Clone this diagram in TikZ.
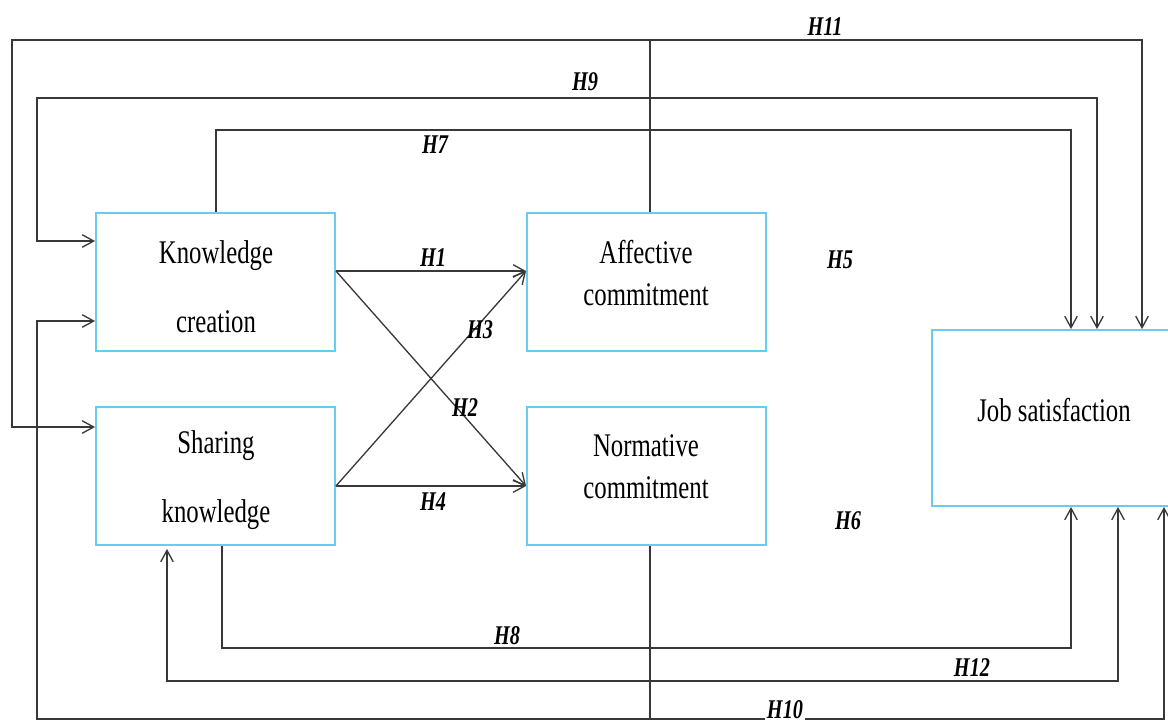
\documentclass[tikz,border=0pt]{standalone}
\usepackage{fontspec}
\setmainfont{Liberation Serif}
\newfontfamily\boxfont[FakeStretch=0.75]{Liberation Serif}
\usetikzlibrary{calc,positioning,arrows.meta}
\definecolor{boxblue}{HTML}{66CCF0}
\tikzset{
  tip/.tip={Straight Barb[length=2.3mm,width=2.5mm]},
  plain/.style={line width=0.75pt, draw=black!78},
  line/.style={plain, -tip},
  both/.style={plain, tip-tip},
  box/.style={draw=boxblue, line width=1.1pt, minimum width=4.78cm, minimum height=2.76cm, inner sep=0pt},
  bigbox/.style={box, minimum width=4.8cm, minimum height=3.52cm},
  boxtext/.style={align=center, inner sep=0pt, font=\boxfont\fontsize{18.8}{24}\selectfont},
  hyp/.style={inner sep=1pt, font=\boxfont\fontsize{15.4}{18}\selectfont\bfseries\itshape}
}
\begin{document}
\begin{tikzpicture}[x=0.02cm, y=-0.02cm]
  \useasboundingbox (0,0) rectangle (1168,724);
  % boxes
  \node[box] (KC) at (215.5,282) {};
  \node[box] (SK) at (215.5,476) {};
  \node[box] (AC) at (646.5,282) {};
  \node[box] (NC) at (646.5,476) {};
  \node[bigbox] (JS) at (1052,418) {};
  \node[boxtext] (KCt) at (216,287) {Knowledge\\[0.54cm]creation};
  \node[boxtext] (SKt) at (216,480) {Sharing\\[0.54cm]knowledge};
  \node[boxtext] (ACt) at (646,273) {Affective\\commitment};
  \node[boxtext] (NCt) at (646,467) {Normative\\commitment};
  \node[boxtext] (JSt) at (1054,410) {Job satisfaction};
  % crossing paths
  \draw[line] (KC.east |- 0,271) -- (AC.west |- 0,271);
  \draw[line] (KC.east |- 0,271) -- (NC.west |- 0,486);
  \draw[line] (SK.east |- 0,486) -- (AC.west |- 0,271);
  \draw[line] (SK.east |- 0,486) -- (NC.west |- 0,486);
  % outer paths
  \draw[both] (SK.west |- 0,427) -| (12,40) -| (JS.north -| 1142,0);
  \draw[both] (KC.west |- 0,241) -| (37,98) -| (JS.north -| 1097,0);
  \draw[line] (KC.north -| 216,0) |- (1071,130) -- (JS.north -| 1071,0);
  \draw[plain] (AC.north -| 650,0) -- (650,40);
  \draw[plain] (NC.south -| 650,0) -- (650,719);
  \draw[line] (SK.south -| 222,0) |- (1071,648) -- (JS.south -| 1071,0);
  \draw[both] (SK.south -| 167,0) ++(0,3) |- (1118,681) -- (JS.south -| 1118,0);
  \draw[both] (KC.west |- 0,321) -| (37,719) -| (JS.south -| 1164,0);
  % labels
  \node[hyp] (H1) at (433,258) {H1};
  \node[hyp] (H2) at (465,408) {H2};
  \node[hyp] (H3) at (480,330) {H3};
  \node[hyp] (H4) at (433,502) {H4};
  \node[hyp] (H5) at (840,260) {H5};
  \node[hyp] (H6) at (848,521) {H6};
  \node[hyp] (H7) at (435,145) {H7};
  \node[hyp] (H8) at (507,636) {H8};
  \node[hyp] (H9) at (585,82) {H9};
  \node[hyp, fill=white] (H10) at (785,710) {H10};
  \node[hyp] (H11) at (825,27) {H11};
  \node[hyp] (H12) at (972,668) {H12};
\end{tikzpicture}
\end{document}
